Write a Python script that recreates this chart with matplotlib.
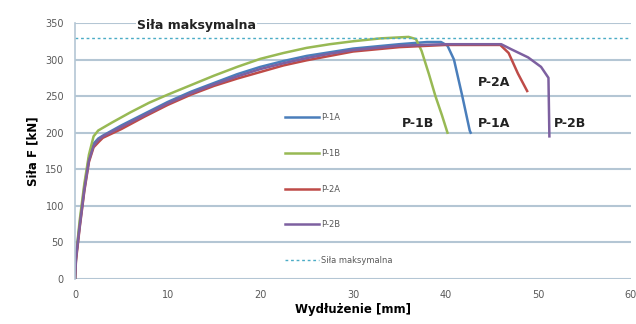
import numpy as np
import matplotlib.pyplot as plt

# Dane (wydluzenie [mm], sila [kN])
p1a_x = [0, 0.1, 0.5, 1.0, 1.5, 2.0, 2.5, 3.0, 5, 7.5, 10, 12.5, 15, 17.5, 20, 22.5, 25, 27.5, 30, 35, 38, 39.5, 40.2, 40.9, 41.8, 42.6, 42.7]
p1a_y = [0, 30, 75, 125, 165, 185, 192, 196, 210, 226, 242, 256, 268, 280, 290, 298, 305, 310, 315, 321, 324, 324, 319, 300, 250, 203, 200]

p1b_x = [0, 0.1, 0.5, 1.0, 1.5, 2.0, 2.5, 4, 6, 8, 10, 12.5, 15, 17.5, 20, 22.5, 25, 27.5, 30, 33, 36, 36.8, 37.4, 38.2, 38.9, 39.6, 40.2]
p1b_y = [0, 30, 80, 130, 170, 195, 203, 214, 228, 241, 252, 265, 278, 290, 301, 309, 316, 321, 325, 329, 331, 328, 312, 280, 250, 224, 200]

p2a_x = [0, 0.1, 0.5, 1.0, 1.5, 2.0, 2.6, 3.0, 5, 7.5, 10, 12.5, 15, 17.5, 20, 22.5, 25, 27.5, 30, 35, 40, 45.9, 46.8, 47.8, 48.8]
p2a_y = [0, 25, 70, 120, 160, 180, 188, 193, 205, 222, 238, 252, 264, 274, 283, 292, 299, 305, 311, 317, 320, 320, 309, 281, 257]

p2b_x = [0, 0.1, 0.5, 1.0, 1.5, 2.0, 2.5, 3.0, 5, 7.5, 10, 12.5, 15, 17.5, 20, 22.5, 25, 27.5, 30, 35, 40, 46, 47.1, 48.9, 50.3, 51.1, 51.2]
p2b_y = [0, 28, 72, 122, 162, 182, 190, 195, 208, 224, 240, 254, 266, 277, 287, 295, 302, 308, 313, 319, 321, 321, 314, 303, 290, 275, 195]

sila_max = 330
x_ticks = [0, 10, 20, 30, 40, 50, 60]
y_ticks = [0, 50, 100, 150, 200, 250, 300, 350]

fig = plt.figure(figsize=(6.36, 3.24), dpi=100)
ax = fig.add_axes([0.118, 0.139, 0.874, 0.790])

ax.plot(p1a_x, p1a_y, color='#4a7ebb', lw=1.8, label='P-1A')
ax.plot(p1b_x, p1b_y, color='#98b954', lw=1.8, label='P-1B')
ax.plot(p2a_x, p2a_y, color='#be4b48', lw=1.8, label='P-2A')
ax.plot(p2b_x, p2b_y, color='#7d60a0', lw=1.8, label='P-2B')
ax.plot([0, 60], [sila_max, sila_max], color='#4bacc6', lw=1, ls=(0, (2, 2)), label='Siła maksymalna')

ax.set_xlim(0, 60)
ax.set_ylim(0, 350)
ax.set_xticks(x_ticks)
ax.set_yticks(y_ticks)
ax.grid(axis='y', color='#b4c6d4', lw=1.5)
ax.set_axisbelow(True)
for s in ['top', 'right', 'bottom']:
    ax.spines[s].set_visible(False)
ax.spines['left'].set_color('#b4c6d4')
ax.spines['left'].set_linewidth(1.2)
ax.tick_params(length=0, labelsize=7, colors='#595959', pad=8)

ax.set_xlabel('Wydłużenie [mm]', fontsize=8.5, fontweight='bold', labelpad=2)
ax.set_ylabel('Siła F [kN]', fontsize=8.5, fontweight='bold', labelpad=4)

leg = ax.legend(loc='upper left', bbox_to_anchor=(0.365, 0.677), frameon=False,
                fontsize=6, labelspacing=3.2, handlelength=4, handletextpad=0.3)
for t in leg.get_texts():
    t.set_color('#595959')

ax.text(13.1, 346, 'Siła maksymalna', fontsize=9, fontweight='bold', ha='center', va='center',
        color='#222222', bbox=dict(facecolor='white', edgecolor='none', pad=1))
ax.text(37.0, 213, 'P-1B', fontsize=9, fontweight='bold', ha='center', va='center', color='#222222')
ax.text(45.2, 213, 'P-1A', fontsize=9, fontweight='bold', ha='center', va='center', color='#222222')
ax.text(53.4, 213, 'P-2B', fontsize=9, fontweight='bold', ha='center', va='center', color='#222222')
ax.text(45.2, 269, 'P-2A', fontsize=9, fontweight='bold', ha='center', va='center', color='#222222')

plt.savefig('out.png', dpi=100)
